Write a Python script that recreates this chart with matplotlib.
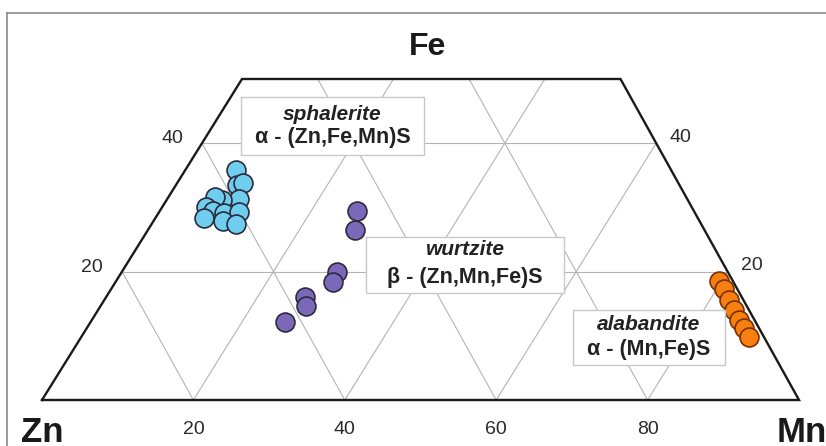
import matplotlib
matplotlib.use('Agg')
import matplotlib.pyplot as plt
import numpy as np
from matplotlib.patches import Rectangle
from matplotlib.lines import Line2D

# ---- data: compositions (at. %), Zn = 100 - Fe - Mn ----
sph_fe = [35.8, 33.5, 33.8, 31.3, 31.2, 31.6, 30.1, 29.4, 29.1, 29.3, 28.3, 27.9, 27.4]
sph_mn = [6.7, 8.0, 8.7, 9.5, 7.3, 6.1, 5.8, 7.0, 8.6, 10.5, 6.5, 9.2, 11.2]
wur_fe = [29.4, 26.5, 19.9, 18.4, 16.0, 14.6, 12.1]
wur_mn = [26.1, 27.4, 28.5, 28.7, 26.3, 27.1, 25.7]
ala_fe = [18.5, 17.3, 15.6, 14.0, 12.5, 11.2, 9.8]
ala_mn = [79.7, 81.0, 82.5, 84.0, 85.5, 86.8, 88.2]
base_ticks = [20, 40, 60, 80]
fe_ticks = [20, 40]
fe_max = 50

# ---- layout ----
W, H = 826, 446
X0, SX, SY, BASE = 42, 7.57, 6.42, 400
K = 4.0 / SX  # horizontal shift per Fe %

def tx(fe, mn):
    return np.asarray(mn, float) + K * np.asarray(fe, float)

fig = plt.figure(figsize=(W / 100, H / 100), dpi=100)
fig.patch.set_facecolor('white')
ax = fig.add_axes([0, 0, 1, 1])
ax.set_xlim(-X0 / SX, (W - X0) / SX)
ax.set_ylim(-(H - BASE) / SY, BASE / SY)
ax.axis('off')

# frame of the original slide
fig.add_artist(Line2D([7 / W, 1], [1 - 13 / H, 1 - 13 / H], color='#8a8a8a', lw=1.2))
fig.add_artist(Line2D([7 / W, 7 / W], [0, 1 - 13 / H], color='#8a8a8a', lw=1.2))

gcol = '#b4b4b4'
glw = 0.8
# constant Fe lines
for f in fe_ticks:
    ax.plot(tx([f, f], [0, 100 - f]), [f, f], color=gcol, lw=glw, zorder=1)
# constant Mn lines
for m in base_ticks:
    ftop = min(fe_max, 100 - m)
    ax.plot(tx([0, ftop], [m, m]), [0, ftop], color=gcol, lw=glw, zorder=1)
# constant Zn lines
for z in base_ticks:
    s = 100 - z
    ftop = min(fe_max, s)
    ax.plot(tx([0, ftop], [s, s - ftop]), [0, ftop], color=gcol, lw=glw, zorder=1)

# outline
of = [0, 0, fe_max, fe_max, 0]
om = [0, 100, 100 - fe_max, 0, 0]
ax.plot(tx(of, om), of, color='#1a1a1a', lw=1.7, zorder=3, solid_joinstyle='miter')

# tick labels
tcol = '#2a2a2a'
for m in base_ticks:
    ax.annotate(str(m), (tx(0, m), 0), xytext=(0, -34 * 0.72), textcoords='offset points',
                ha='center', va='baseline', fontsize=14, color=tcol, family='Liberation Sans')
for f in fe_ticks:
    ax.annotate(str(f), (tx(f, 0), f), xytext=(-30 * 0.72, 0), textcoords='offset points',
                ha='center', va='baseline', fontsize=14, color=tcol, family='Liberation Sans')
    ax.annotate(str(f), (tx(f, 100 - f), f), xytext=(24 * 0.72, 1), textcoords='offset points',
                ha='center', va='baseline', fontsize=14, color=tcol, family='Liberation Sans')

# corner labels
fig.text(42 / W, 1 - 442 / H, 'Zn', ha='center', va='baseline', fontsize=25,
         fontweight='bold', color='#1a1a1a', family='Liberation Sans')
fig.text(777 / W, 1 - 442 / H, 'Mn', ha='left', va='baseline', fontsize=25,
         fontweight='bold', color='#1a1a1a', family='Liberation Sans')
fig.text(428 / W, 1 - 55 / H, 'Fe', ha='center', va='baseline', fontsize=23,
         fontweight='bold', color='#1a1a1a', family='Liberation Sans')

# data points
ec = '#2b2b3d'
ax.scatter(tx(sph_fe, sph_mn), sph_fe, s=185, c='#6fcdee', edgecolors=ec, linewidths=1.2, zorder=5)
ax.scatter(tx(wur_fe, wur_mn), wur_fe, s=185, c='#7b68b8', edgecolors=ec, linewidths=1.2, zorder=5)
ax.scatter(tx(ala_fe, ala_mn), ala_fe, s=185, c='#f77f10', edgecolors='#7a3000', linewidths=1.2, zorder=5)

# label boxes (figure pixel coords)
def box(x1, y1, x2, y2, name, formula, y_name, y_form):
    fig.add_artist(Rectangle((x1 / W, 1 - y2 / H), (x2 - x1) / W, (y2 - y1) / H,
                             transform=fig.transFigure, facecolor='white',
                             edgecolor='#c8c8c8', lw=1.0, zorder=4))
    xc = (x1 + x2) / 2 / W
    fig.text(xc, 1 - y_name / H, name, ha='center', va='center', fontsize=15,
             fontweight='bold', fontstyle='italic', color='#222222',
             family='Liberation Sans', zorder=6)
    fig.text(xc, 1 - y_form / H, formula, ha='center', va='center', fontsize=15.5,
             fontweight='bold', color='#222222', family=['Liberation Sans', 'DejaVu Sans'], zorder=6)

box(241, 97, 424, 155, 'sphalerite', 'α - (Zn,Fe,Mn)S', 114, 138)
box(366, 237, 564, 293, 'wurtzite', 'β - (Zn,Mn,Fe)S', 250, 277)
box(573, 310, 725, 365, 'alabandite', 'α - (Mn,Fe)S', 325, 349)

fig.savefig('out.png', dpi=100)
